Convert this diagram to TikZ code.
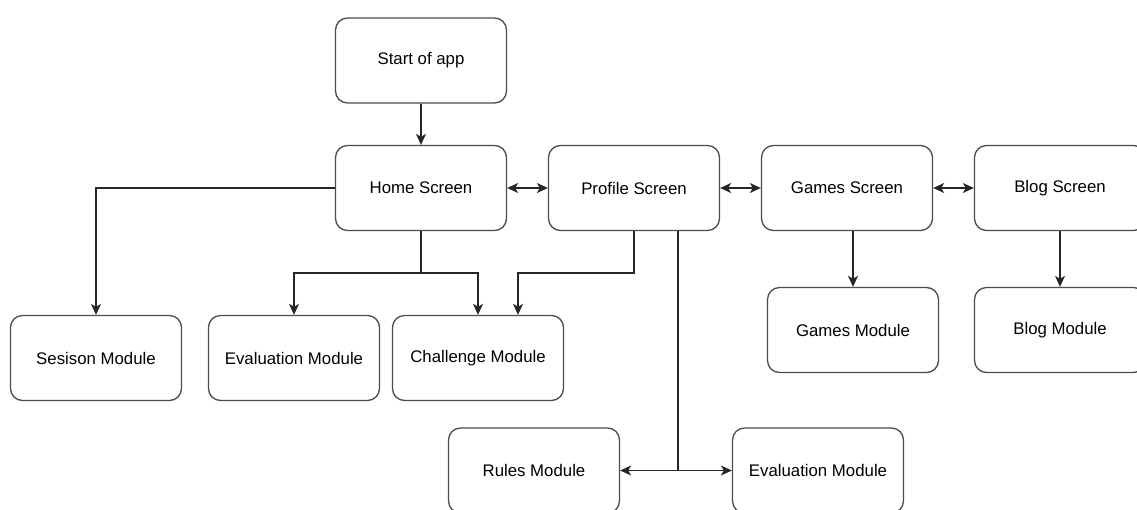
\documentclass[tikz,border=0pt]{standalone}
\usepackage{fontspec}
\setmainfont{Liberation Sans}
\usepackage{xcolor}
\usepackage{tikz}
\usetikzlibrary{arrows.meta}

\begin{document}
\begin{tikzpicture}[x=1pt, y=-1pt,
  screen/.style={draw=black!70, line width=1.3pt, rounded corners=12pt,
    minimum width=171pt, minimum height=85pt, inner sep=0pt,
    font=\fontsize{16.8}{20}\selectfont},
  link/.style={draw=black!85, line width=1.3pt,
    -{Stealth[length=11pt, width=10pt, inset=3pt]}},
  twoway/.style={link, {Stealth[length=11pt, width=10pt, inset=3pt]}-{Stealth[length=11pt, width=10pt, inset=3pt]}},
  plain/.style={draw=black!85, line width=1.3pt}]
\fill[white] (0,0) rectangle (1137,509);
\useasboundingbox (0,0) rectangle (1137,509);
\node[screen] (start) at (421,60.5) {Start of app};
\node[screen] (home) at (421,188) {Home Screen};
\node[screen] (profile) at (634,188) {Profile Screen};
\node[screen] (games) at (847,188) {Games Screen};
\node[screen] (blog) at (1060,188) {Blog Screen};
\node[screen] (gamesmod) at (853,330) {Games Module};
\node[screen] (blogmod) at (1060,330) {Blog Module};
\node[screen] (session) at (96,358) {Sesison Module};
\node[screen] (evalmod) at (294,358) {Evaluation Module};
\node[screen] (challenge) at (478,358) {Challenge Module};
\node[screen] (rules) at (534,470.5) {Rules Module};
\node[screen] (evalmodb) at (818,470.5) {Evaluation Module};
\coordinate (hj) at (421,273);
\coordinate (pj) at (634,273);
\coordinate (pk) at (678,470.5);
\draw[link] (start) -- (home);
\draw[twoway] (home) -- (profile);
\draw[twoway] (profile) -- (games);
\draw[twoway] (games) -- (blog);
\draw[link] (home.west) -| (session.north);
\draw[plain] (home.south) -- (hj);
\draw[link] (hj) -| (evalmod.north);
\draw[link] (hj) -| (challenge.north);
\draw[link] (profile.south) -- (pj) -| ([xshift=40pt]challenge.north);
\draw[plain] (profile.south -| pk) -- (pk);
\draw[link] (pk) -- (rules.east);
\draw[link] (pk) -- (evalmodb.west);
\draw[link] (gamesmod.north |- games.south) -- (gamesmod.north);
\draw[link] (blog) -- (blogmod);
\end{tikzpicture}
\end{document}
